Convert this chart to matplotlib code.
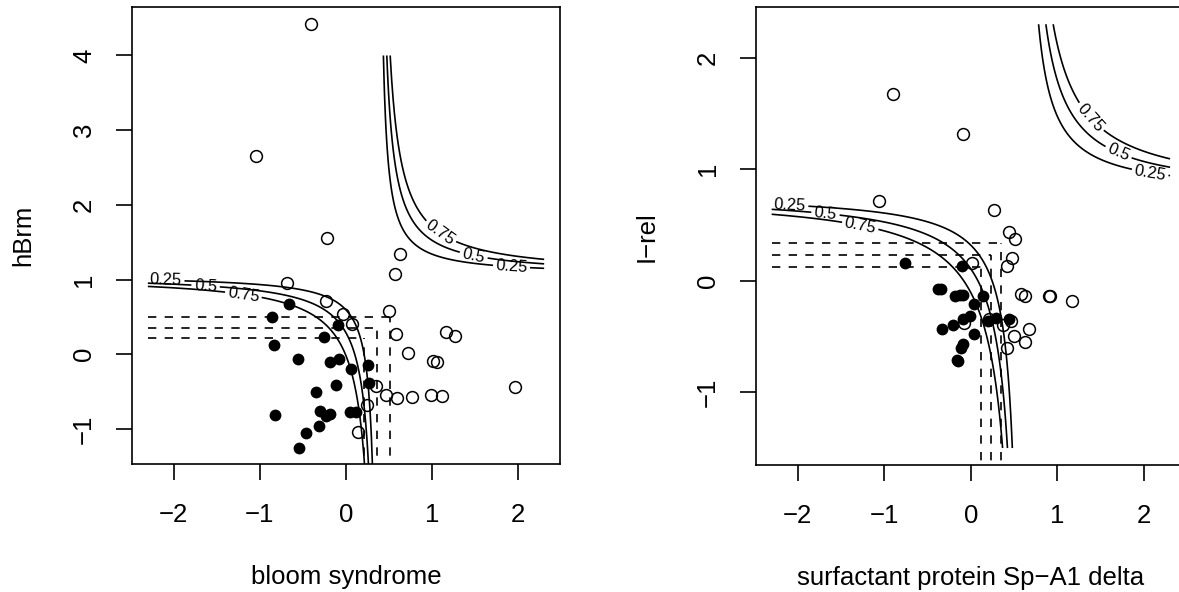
import numpy as np
import matplotlib
matplotlib.use("Agg")
import matplotlib.pyplot as plt

plt.rcParams['font.family'] = ['Liberation Sans', 'DejaVu Sans']
plt.rcParams['axes.linewidth'] = 1.2

# --- left panel: bloom syndrome vs hBrm ---
bloom_open_x = [-0.41, -1.05, -0.22, 0.63, 0.565, -0.685, -0.23, -0.03, 0.073, 0.50,
                0.578, 0.722, 1.01, 1.057, 1.163, 1.26, 1.96, 0.35, 0.465, 0.595,
                0.768, 0.992, 1.115, 0.242, 0.138]
bloom_open_y = [4.42, 2.66, 1.56, 1.345, 1.08, 0.96, 0.714, 0.537, 0.403, 0.58,
                0.27, 0.022, -0.085, -0.099, 0.303, 0.25, -0.434, -0.424, -0.545, -0.585,
                -0.572, -0.545, -0.554, -0.677, -1.046]
bloom_fill_x = [-0.666, -0.855, -0.834, -0.556, -0.25, -0.097, -0.19, -0.077, 0.063, 0.251,
                0.269, -0.115, -0.346, -0.827, -0.30, -0.23, -0.18, 0.045, 0.115, -0.312,
                -0.461, -0.549]
bloom_fill_y = [0.67, 0.504, 0.122, -0.063, 0.225, 0.396, -0.10, -0.07, -0.201, -0.143,
                -0.388, -0.415, -0.50, -0.813, -0.76, -0.83, -0.80, -0.777, -0.777, -0.958,
                -1.049, -1.259]
bloom_cuts = [0.212, 0.355, 0.505]

# --- right panel: surfactant protein Sp-A1 delta vs I-rel ---
spa_open_x = [-0.896, -0.089, -1.058, 0.273, 0.438, 0.515, 0.475, 0.417, 0.012, 0.58,
              0.63, 0.905, 0.915, 1.168, 0.675, 0.50, 0.63, 0.419, 0.368, 0.461,
              0.215, -0.08]
spa_open_y = [1.671, 1.313, 0.716, 0.636, 0.435, 0.378, 0.207, 0.128, 0.158, -0.122,
              -0.136, -0.135, -0.14, -0.185, -0.436, -0.495, -0.55, -0.606, -0.394, -0.36,
              -0.34, -0.379]
spa_fill_x = [-0.761, -0.107, -0.385, -0.34, -0.185, -0.13, -0.092, 0.135, 0.035, -0.015,
              -0.096, -0.207, -0.338, 0.035, -0.092, -0.113, -0.165, -0.146, 0.20, 0.288,
              0.442]
spa_fill_y = [0.158, 0.134, -0.072, -0.076, -0.14, -0.132, -0.128, -0.134, -0.207, -0.316,
              -0.343, -0.394, -0.436, -0.48, -0.565, -0.607, -0.713, -0.722, -0.364, -0.338,
              -0.346]
spa_cuts = [0.119, 0.227, 0.343]

levels = [0.25, 0.5, 0.75]

# logistic surface with interaction: a + d*(x - cx)*(y - cy)
left_model = dict(a=-2.77, d=9.55, cx=0.375, cy=1.06)
right_model = dict(a=-3.48, d=8.6, cx=0.60, cy=0.78)

left_lab_pos = [(-2.09, 0.985), (-1.63, 0.914), (-1.19, 0.807),
                (1.115, 1.664), (1.48, 1.316), (1.92, 1.159)]
right_lab_pos = [(-2.09, 0.671), (-1.68, 0.59), (-1.28, 0.48),
                 (1.39, 1.47), (1.70, 1.143), (2.07, 0.97)]

FS = 18.5


def prob(m, x, y):
    lin = m['a'] + m['d'] * (x - m['cx']) * (y - m['cy'])
    return 1.0 / (1.0 + np.exp(-lin))


def panel(ax, ox, oy, fx, fy, cuts, model, yrange, labpos, ylim, yticks, xlab, ylab):
    gx = np.linspace(-2.3, 2.3, 300)
    gy = np.linspace(yrange[0], yrange[1], 300)
    X, Y = np.meshgrid(gx, gy)
    cs = ax.contour(X, Y, prob(model, X, Y), levels=levels, colors='black',
                    linewidths=1.2, linestyles='solid')
    ax.clabel(cs, fmt={0.25: '0.25', 0.5: '0.5', 0.75: '0.75'}, fontsize=11.8,
              inline=True, inline_spacing=4, manual=labpos)

    ax.plot(ox, oy, 'o', ms=8.5, mfc='none', mec='black', mew=1.1)
    ax.plot(fx, fy, 'o', ms=8.5, mfc='black', mec='black', mew=0)

    for c in cuts:
        ax.plot([-2.3, c], [c, c], color='black', lw=1.2, ls=(0, (5, 5)))
        ax.plot([c, c], [ylim[0] - 1, c], color='black', lw=1.2, ls=(0, (5, 5)))

    ax.set_xlim(-2.484, 2.484)
    ax.set_ylim(*ylim)
    ax.set_xticks([-2, -1, 0, 1, 2])
    ax.set_yticks(yticks)
    ax.tick_params(direction='out', length=11.3, width=1.2, labelsize=FS)
    ax.tick_params(axis='x', pad=16.5)
    ax.tick_params(axis='y', pad=14.5, labelrotation=90)
    for t in ax.get_yticklabels():
        t.set_va('center')
        t.set_ha('right')
    ax.set_xlabel(xlab, fontsize=FS)
    ax.set_ylabel(ylab, fontsize=FS)


fig = plt.figure(figsize=(11.79, 5.92), dpi=100)
axl = fig.add_axes([0.11196, 0.21622, 0.36302, 0.77145])
axr = fig.add_axes([0.64097, 0.21453, 0.36497, 0.77314])

panel(axl, bloom_open_x, bloom_open_y, bloom_fill_x, bloom_fill_y, bloom_cuts,
      left_model, (-1.5, 4.0), left_lab_pos, (-1.469, 4.645), [-1, 0, 1, 2, 3, 4],
      'bloom syndrome', 'hBrm')
panel(axr, spa_open_x, spa_open_y, spa_fill_x, spa_fill_y, spa_cuts,
      right_model, (-1.5, 2.3), right_lab_pos, (-1.652, 2.452), [-1, 0, 1, 2],
      'surfactant protein Sp\u2212A1 delta', 'I\u2212rel')

for ax, w in ((axl, 428.0), (axr, 430.3)):
    ax.xaxis.set_label_coords(0.5, -112.7 / 456.7)
    ax.xaxis.label.set_va('center')
    ax.yaxis.set_label_coords(-109.0 / w, 0.5)
    ax.yaxis.label.set_va('center')

fig.savefig('out.png', dpi=100)
